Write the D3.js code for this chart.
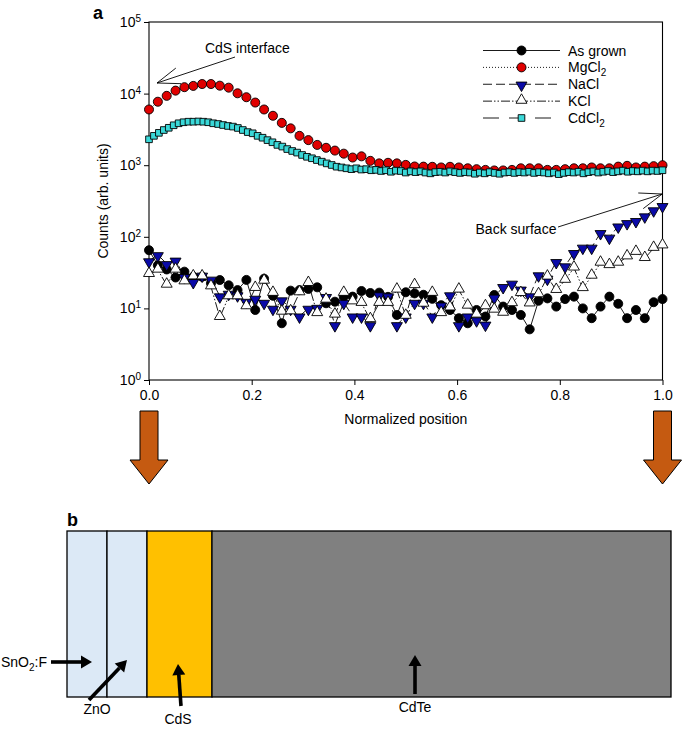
<!DOCTYPE html>
<html><head><meta charset="utf-8">
<script src="https://cdn.jsdelivr.net/npm/d3@7"></script>
<style>
body{margin:0;background:#fff}
svg{display:block}
text{font-family:"Liberation Sans",Arial,Helvetica,sans-serif;fill:#000}
</style>
</head><body>
<svg id="c" width="685" height="742"></svg>
<script>
// ---------------- DATA ----------------
const seriesNames = ["As grown", "MgCl2", "NaCl", "KCl", "CdCl2"];
const xTicks = [0, 0.2, 0.4, 0.6, 0.8, 1.0];
const yTicks = [1, 10, 100, 1000, 10000, 100000];

const asGrown = [65,40,35,27,32.6,27.7,27.7,22.4,24.9,21, 18,25,9.5,26,15,6.2,17.7,18,18.7,19.7,
  11.8,12.4,14.6,14.6,17.5,16.4,16.6,14.5,8.1,16.8, 16.2,15.5,13.6,11.1,9.5,7.3,6.2,9.5,7.7,15.4,
  10.6,9.5,8.1,5.1,12.8,13.8,10.6,13.5,14.6,10.0, 7.3,10.6,14.6,11.6,7.3,9.5,7.3,12.2,13.5];
const mgCl2 = [6000,7700,9300,11000,12300,12800,13600,13600,12900,12100, 10100,8900,7500,6000,4900,3900,3270,2570,2240,1920,
  1750,1600,1450,1280,1330,1150,1060,1080,1060,1010, 960,955,950,930,950,930,905,880,860,845,
  845,860,905,905,905,860,860,880,905,905, 930,905,905,955,980,930,955,970,1000];
const naCl = [46,56,42,47,27.7,23.6,29,25.5,14.9,16.2, 15.4,12.5,13.8,12.1,10,13.1,10,7.8,10,10.3,
  14.6,5.9,12.1,7.8,7.8,5.9,15.4,14.9,5.9,7.8, 12.1,12.1,7.8,11.1,15.4,5.9,7.8,6.9,6.0,14.3,
  20.1,22.4,18.5,14.9,29.3,26.3,44.9,39.1,60,71.3, 71.3,114,98.4,141,157,168,195,237,272];
const kCl = [29.9,34.4,21.2,34.4,23.6,27.7,27.7,20.1,7.5,14.6, 14.6,10.6,19.1,24.1,16.3,8.9,9,16.6,22.4,8.5,
  13.1,8.1,16.3,12.4,11.8,7.0,11.8,11.8,18.1,7.8, 20.9,11.5,16.3,8.5,10.2,18.1,10.8,8.1,10.6,9.5,
  8.6,11.7,16.2,11.6,15.6,27.5,17.9,24.8,36.8,19.0, 28.3,43,39.8,43,52.7,60.9,50,69.3,75];
const cdCl2 = [2300,2570,2830,3100,3330,3610,3850,3980,4050,4050, 4080,4050,3980,3850,3760,3640,3530,3460,3310,3100,
  2900,2790,2570,2420,2240,2090,1920,1820,1680,1580, 1500,1390,1310,1250,1180,1120,1060,1007,953,930,
  905,880,905,870,880,850,860,830,850,810, 840,830,790,820,800,820,790,770,800,810,
  790,820,800,780,800,790,760,790,770,800, 780,760,790,800,780,800,790,810,780,800,
  790,770,790,750,780,800,790,810,770,800, 820,790,810,830,800,820,840,810,830,820,
  840,820,840,830,850];

// panel b layers (relative thickness units)
const layerNames = ["SnO2:F", "ZnO", "CdS", "CdTe"];
const layerThick = [40, 40, 65, 459];

// ---------------- SETUP ----------------
const FONT = '"Liberation Sans",Arial,Helvetica,sans-serif';
const svg = d3.select("#c");
const x = d3.scaleLinear().domain([0, 1]).range([149, 662.5]);
const y = d3.scaleLog().domain([1, 1e5]).range([380, 22]);
const grid = n => d3.range(n).map(i => i / (n - 1));

const styles = {
  "As grown": {data: asGrown, dash: null, sym: "circle", fill: "#000"},
  "MgCl2": {data: mgCl2, dash: "1,2", sym: "circle", fill: "#e00000"},
  "NaCl": {data: naCl, dash: "9,4", sym: "tdown", fill: "#0a0aa8"},
  "KCl": {data: kCl, dash: "9,2,1.5,2,1.5,2", sym: "tup", fill: "#fff"},
  "CdCl2": {data: cdCl2, dash: "16,10", sym: "square", fill: "#3ad8d8"}
};

function symPath(kind) {
  if (kind === "circle") return d3.symbol(d3.symbolCircle, 64)();
  if (kind === "square") return d3.symbol(d3.symbolSquare, 44)();
  return d3.symbol(d3.symbolTriangle, 52)();
}
function symTransform(kind, px, py) {
  if (kind === "tdown") return `translate(${px},${py + 1}) rotate(180)`;
  if (kind === "tup") return `translate(${px},${py - 1})`;
  return `translate(${px},${py})`;
}

const gA = svg.append("g");

// panel label
svg.append("text").attr("x", 93).attr("y", 19).attr("font-size", 18).attr("font-weight", "bold").text("a");

// axes
const xAxisG = gA.append("g").attr("transform", `translate(0,${y(1)})`)
  .call(d3.axisBottom(x).tickValues(xTicks).tickFormat(d3.format(".1f")).tickSize(5).tickSizeOuter(0).tickPadding(5));
xAxisG.attr("font-size", 14).attr("font-family", FONT);
xAxisG.select(".domain").remove();

const yAxisG = gA.append("g").attr("transform", `translate(${x(0)},0)`)
  .call(d3.axisLeft(y).tickValues(yTicks).tickSize(5).tickSizeOuter(0).tickPadding(3));
yAxisG.attr("font-size", 14).attr("font-family", FONT);
yAxisG.select(".domain").remove();
yAxisG.selectAll(".tick text").each(function(d) {
  const t = d3.select(this);
  t.text(null);
  t.append("tspan").text("10");
  t.append("tspan").attr("dy", "-0.5em").attr("font-size", 10).text(Math.round(Math.log10(d)));
});

// frame
gA.append("rect").attr("x", x(0)).attr("y", y(1e5))
  .attr("width", x(1) - x(0)).attr("height", y(1) - y(1e5))
  .attr("fill", "none").attr("stroke", "#000").attr("stroke-width", 1.1);

// titles
gA.append("text").attr("x", (x(0) + x(1)) / 2).attr("y", 424).attr("text-anchor", "middle")
  .attr("font-size", 14).text("Normalized position");
gA.append("text").attr("transform", `translate(108,${(y(1) + y(1e5)) / 2}) rotate(-90)`)
  .attr("text-anchor", "middle").attr("font-size", 14).text("Counts (arb. units)");

// series lines
const line = d3.line().x(d => x(d[0])).y(d => y(d[1]));
seriesNames.forEach(name => {
  const s = styles[name];
  const pts = grid(s.data.length).map((p, i) => [p, s.data[i]]);
  gA.append("path").datum(pts).attr("d", line).attr("fill", "none")
    .attr("stroke", "#000").attr("stroke-width", 0.9)
    .attr("stroke-dasharray", s.dash);
});
// series markers
seriesNames.forEach(name => {
  const s = styles[name];
  const pts = grid(s.data.length).map((p, i) => [p, s.data[i]]);
  gA.append("g").selectAll("path").data(pts).join("path")
    .attr("d", symPath(s.sym))
    .attr("transform", d => symTransform(s.sym, x(d[0]), y(d[1])))
    .attr("fill", s.fill).attr("stroke", "#000").attr("stroke-width", 0.9);
});

// legend
const legY = d3.scalePoint().domain(seriesNames).range([50.5, 118]);
const lg = gA.append("g");
seriesNames.forEach(name => {
  const s = styles[name];
  const yy = legY(name);
  lg.append("line").attr("x1", 483).attr("x2", 560).attr("y1", yy).attr("y2", yy)
    .attr("stroke", "#000").attr("stroke-width", 0.9).attr("stroke-dasharray", s.dash);
  lg.append("path").attr("d", symPath(s.sym)).attr("transform", symTransform(s.sym, 521.5, yy))
    .attr("fill", s.fill).attr("stroke", "#000").attr("stroke-width", 0.9);
  const t = lg.append("text").attr("x", 568).attr("y", yy + 5).attr("font-size", 14);
  const m = name.match(/^(.*?)(\d)$/);
  if (m) {
    t.append("tspan").text(m[1]);
    t.append("tspan").attr("dy", 4).attr("font-size", 10).text(m[2]);
  } else t.text(name);
});

// open-arrow annotation helper
function openArrow(g, x1, y1, x2, y2, len, ang) {
  const a = Math.atan2(y1 - y2, x1 - x2);
  const d = `M${x1},${y1}L${x2},${y2}` +
    `M${x2 + len * Math.cos(a + ang)},${y2 + len * Math.sin(a + ang)}L${x2},${y2}` +
    `L${x2 + len * Math.cos(a - ang)},${y2 + len * Math.sin(a - ang)}`;
  g.append("path").attr("d", d).attr("fill", "none").attr("stroke", "#000").attr("stroke-width", 0.9);
}
// annotations anchored in data coordinates
const ann = [
  {text: "CdS interface", tx: 0.109, ty: 36900, anchor: "start", from: [0.1675, 32400], to: [0.0156, 14060]},
  {text: "Back surface", tx: 0.7935, ty: 109, anchor: "end", from: [0.7965, 137], to: [0.9995, 396]}
];
ann.forEach(a => {
  gA.append("text").attr("x", x(a.tx)).attr("y", y(a.ty)).attr("text-anchor", a.anchor)
    .attr("font-size", 14).text(a.text);
  openArrow(gA, x(a.from[0]), y(a.from[1]), x(a.to[0]), y(a.to[1]), 24, 20 * Math.PI / 180);
});

// orange block arrows under the x-axis ends
[0, 1].forEach(v => {
  const cx = x(v), top = 411, bot = 484, sw = 9, hw = 19, hl = 24;
  const p = `M${cx - sw},${top}L${cx + sw},${top}L${cx + sw},${bot - hl}L${cx + hw},${bot - hl}L${cx},${bot}L${cx - hw},${bot - hl}L${cx - sw},${bot - hl}Z`;
  svg.append("path").attr("d", p).attr("fill", "#c55a11").attr("stroke", "#000").attr("stroke-width", 1);
});

// ---------------- PANEL B ----------------
const gB = svg.append("g");
gB.append("text").attr("x", 67).attr("y", 526).attr("font-size", 18).attr("font-weight", "bold").text("b");
const bx = d3.scaleLinear().domain([0, d3.sum(layerThick)]).range([67, 671]);
const cum = d3.cumsum([0, ...layerThick]);
const layerColors = ["#dce9f6", "#dce9f6", "#ffc000", "#808080"];
const bTop = 531, bBot = 697;
layerNames.forEach((n, i) => {
  gB.append("rect").attr("x", bx(cum[i])).attr("y", bTop)
    .attr("width", bx(cum[i + 1]) - bx(cum[i])).attr("height", bBot - bTop)
    .attr("fill", layerColors[i]).attr("stroke", "#000").attr("stroke-width", 1.3);
});

function solidArrow(g, x1, y1, x2, y2) {
  const a = Math.atan2(y2 - y1, x2 - x1);
  const hl = 11, hw = 6.5;
  const bxp = x2 - hl * Math.cos(a), byp = y2 - hl * Math.sin(a);
  g.append("line").attr("x1", x1).attr("y1", y1).attr("x2", bxp).attr("y2", byp)
    .attr("stroke", "#000").attr("stroke-width", 3.6);
  g.append("path").attr("d",
    `M${x2},${y2}L${bxp + hw * Math.sin(a)},${byp - hw * Math.cos(a)}L${bxp - hw * Math.sin(a)},${byp + hw * Math.cos(a)}Z`)
    .attr("fill", "#000");
}
// labels
const sn = gB.append("text").attr("x", 1).attr("y", 667).attr("font-size", 14);
sn.append("tspan").text("SnO");
sn.append("tspan").attr("dy", 4).attr("font-size", 10).text("2");
sn.append("tspan").attr("dy", -4).text(":F");
solidArrow(gB, 51, 662, 92, 662);

gB.append("text").attr("x", 97).attr("y", 714).attr("text-anchor", "middle").attr("font-size", 14).text("ZnO");
solidArrow(gB, 89, 700, 127, 660);

gB.append("text").attr("x", 178).attr("y", 724).attr("text-anchor", "middle").attr("font-size", 14).text("CdS");
solidArrow(gB, 181, 706, 178, 664);

gB.append("text").attr("x", 415).attr("y", 712).attr("text-anchor", "middle").attr("font-size", 14).text("CdTe");
solidArrow(gB, 415, 694, 415, 655);
</script>
</body></html>
